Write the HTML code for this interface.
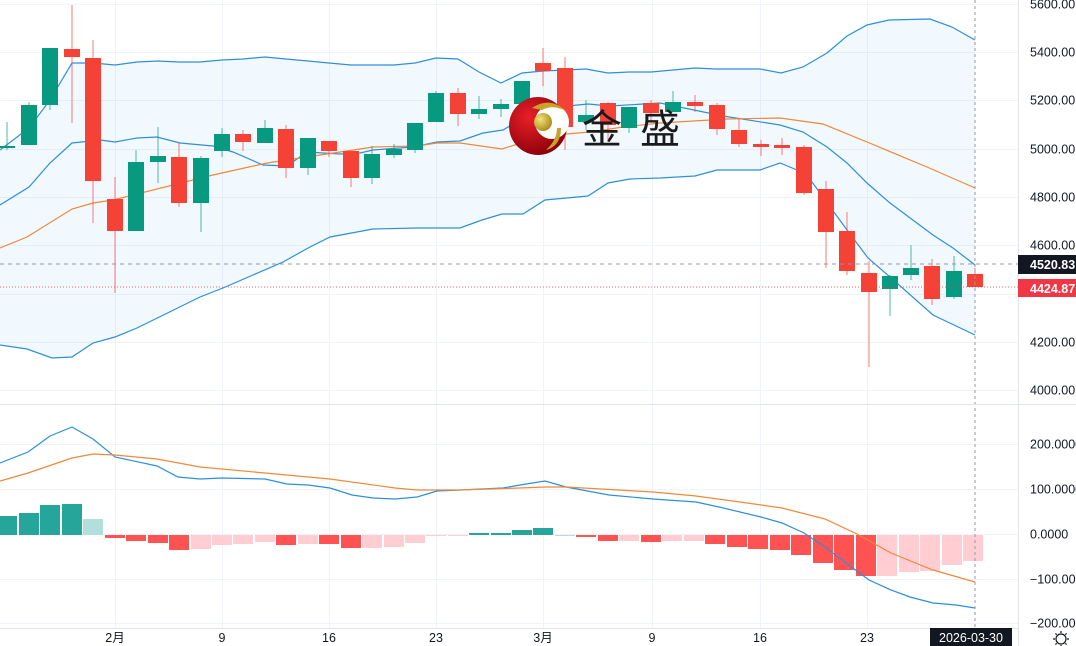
<!DOCTYPE html>
<html><head><meta charset="utf-8"><style>
html,body{margin:0;padding:0;background:#fff;width:1076px;height:646px;overflow:hidden}
svg{display:block}
text{font-family:"Liberation Sans","Noto Sans CJK SC",sans-serif}
</style></head><body>
<svg id="s" width="1076" height="646" xmlns="http://www.w3.org/2000/svg">
<defs>
<radialGradient id="rg" cx="0.35" cy="0.35" r="0.7"><stop offset="0" stop-color="#e8202a"/><stop offset="1" stop-color="#8a0008"/></radialGradient>
<radialGradient id="gg" cx="0.35" cy="0.35" r="0.7"><stop offset="0" stop-color="#f2e27a"/><stop offset="1" stop-color="#a98a1a"/></radialGradient>
</defs>
<g id="grid" stroke="#f0f3fa" stroke-width="1"></g>
<polygon id="band" fill="#2196f3" fill-opacity="0.06"></polygon>
<g id="lines" fill="none" stroke-width="1.2"></g>
<g id="candles"></g>
<g id="hist"></g>
<g id="mlines" fill="none" stroke-width="1.2"></g>
<line x1="0" y1="264" x2="1018" y2="264" stroke="#9598a1" stroke-dasharray="4,4"/>
<line x1="0" y1="287" x2="1018" y2="287" stroke="#f23645" stroke-width="0.8" stroke-dasharray="1,2"/>
<line x1="975" y1="0" x2="975" y2="628" stroke="#9598a1" stroke-dasharray="3,3"/>
<!-- logo -->
<circle cx="538" cy="126" r="29" fill="url(#rg)"/>
<circle cx="552" cy="122" r="17" fill="#fff"/>
<path d="M532 108 Q550 96 566 111 Q553 104 542 110 Z" fill="#c9a22a"/>
<path d="M561 128 Q561 146 546 150 Q557 140 557 128 Z" fill="#c9a22a"/>
<circle cx="543" cy="122" r="9" fill="url(#gg)"/>
<text x="582" y="143" font-size="40" fill="#1a1a1a" style="font-family:'Noto Sans CJK SC',sans-serif">金</text>
<text x="640" y="143" font-size="40" fill="#1a1a1a" style="font-family:'Noto Sans CJK SC',sans-serif">盛</text>
<!-- axes -->
<line x1="0" y1="404.5" x2="1076" y2="404.5" stroke="#e0e3eb"/>
<line x1="0" y1="628.5" x2="1018" y2="628.5" stroke="#e0e3eb"/>
<line x1="1018.5" y1="0" x2="1018.5" y2="646" stroke="#e0e3eb"/>
<g id="labels" font-size="12.5" fill="#131722"></g>
<rect x="1018" y="255" width="58" height="19" fill="#131722"/>
<text x="1030" y="269" font-size="12.5" fill="#fff" font-weight="bold">4520.83</text>
<rect x="1018" y="279" width="58" height="18" fill="#f23645"/>
<text x="1030" y="293" font-size="12.5" fill="#fff" font-weight="bold">4424.87</text>
<rect x="930" y="628" width="82" height="18" fill="#131722"/>
<text x="971" y="642" font-size="12.5" fill="#fff" text-anchor="middle">2026-03-30</text>
<g transform="translate(1061,639)" fill="none" stroke="#131722" stroke-width="1.2"><circle r="5"/><path d="M0-8V-6M0 6V8M-8 0H-6M6 0H8M-5.6-5.6L-4.3-4.3M4.3 4.3L5.6 5.6M-5.6 5.6L-4.3 4.3M4.3-4.3L5.6-5.6"/></g>
</svg>
<script>
const NS="http://www.w3.org/2000/svg";
function el(p,t,a){const e=document.createElementNS(NS,t);for(const k in a)e.setAttribute(k,a[k]);document.getElementById(p).appendChild(e);return e;}
[4,52,100,149,197,245,294,342,390,444,489,534,579,623].forEach(y=>el('grid','line',{x1:0,x2:1018,y1:y+.5,y2:y+.5}));
[115,222,329,436,543,652,760,867].forEach(x=>el('grid','line',{x1:x+.5,x2:x+.5,y1:0,y2:628}));
[["5600.00",4],["5400.00",52],["5200.00",100],["5000.00",149],["4800.00",197],["4600.00",245],["4200.00",342],["4000.00",390],["200.0000",444],["100.0000",489],["0.0000",534],["−100.000",579],["−200.000",623]].forEach(([t,y])=>{const e=el('labels','text',{x:1030,y:y+4.5});e.textContent=t;});
[["2月",115],["9",222],["16",329],["23",436],["3月",543],["9",652],["16",760],["23",867]].forEach(([t,x])=>{const e=el('labels','text',{x:x,y:642,'text-anchor':'middle'});e.textContent=t;});
const up=[[0,150],[29,128],[50,100],[72,63],[93,63],[115,65],[137,62],[158,61],[179,62],[200,62],[222,60],[243,59],[265,57],[286,59],[308,61],[329,63],[351,65],[372,65],[394,65],[415,63],[436,58],[458,59],[479,72],[501,83],[522,73],[543,71],[565,70],[586,69],[608,73],[629,72],[651,72],[673,70],[695,68],[716,69],[738,69],[760,69],[781,73],[803,67],[827,53],[847,36],[867,25],[889,20],[930,19],[952,27],[975,40]];
const lo=[[0,345],[27,349],[52,358],[72,357],[93,343],[115,337],[137,328],[200,297],[223,288],[283,262],[310,247],[330,237],[373,229],[417,228],[460,228],[482,220],[502,214],[523,214],[545,200],[588,196],[608,183],[630,179],[660,178],[695,176],[717,170],[760,170],[780,163],[797,170],[812,182],[847,230],[868,258],[890,277],[933,315],[975,335]];
const mid=[[0,205],[29,187],[50,163],[72,143],[100,140],[115,142],[137,138],[157,137],[180,143],[213,146],[233,152],[263,165],[287,166],[307,152],[340,154],[360,153],[373,150],[413,147],[437,142],[460,141],[483,133],[503,130],[523,118],[547,108],[588,104],[610,106],[660,103],[723,116],[780,125],[803,132],[827,147],[847,163],[867,183],[890,203],[933,235],[953,248],[975,265]];
const ora=[[0,248],[27,237],[72,209],[93,203],[113,200],[213,175],[267,163],[340,152],[373,147],[417,146],[437,143],[460,143],[502,149],[543,136],[590,132],[623,127],[660,123],[727,119],[780,118],[823,124],[867,142],[927,167],[975,188]];
const P=a=>a.map(p=>p.join(',')).join(' ');
document.getElementById('band').setAttribute('points',P(up)+' '+P(lo.slice().reverse()));
el('lines','polyline',{points:P(up),stroke:'#2d8fdc'});
el('lines','polyline',{points:P(lo),stroke:'#2d8fdc'});
el('lines','polyline',{points:P(mid),stroke:'#2d8fdc'});
el('lines','polyline',{points:P(ora),stroke:'#f0883a'});
const C=[[7,146,148,122,150,1],[29,105,145,102,145,1],[50,48,105,48,110,1],[72,49,57,5,123,0],[93,58,181,40,223,0],[115,199,231,177,293,0],[136,162,231,150,231,1],[158,156,162,127,183,1],[179,157,203,143,207,0],[201,158,203,156,232,1],[222,134,151,128,157,1],[243,134,142,130,151,0],[265,128,143,120,143,1],[286,129,168,125,178,0],[308,138,168,138,175,1],[329,141,151,141,157,0],[351,151,178,151,187,0],[372,154,178,146,184,1],[394,149,155,144,158,1],[415,123,150,123,153,1],[436,93,122,91,122,1],[458,93,114,88,126,0],[479,109,114,96,119,1],[501,104,109,99,117,1],[522,81,104,81,110,1],[543,63,71,48,86,0],[565,68,127,57,150,0],[586,115,122,100,130,1],[608,103,125,102,140,0],[629,107,128,107,133,1],[651,103,113,100,120,0],[673,102,112,91,112,1],[695,102,106,95,112,0],[717,105,129,103,135,0],[739,130,144,118,147,0],[761,144,147,140,156,0],[782,145,148,138,155,0],[804,147,193,145,195,0],[826,189,232,181,268,0],[847,231,271,212,275,0],[869,273,292,261,367,0],[890,276,289,275,316,1],[911,268,275,245,280,1],[932,266,299,259,305,0],[954,271,297,256,299,1],[975,274,287,268,287,0]];
C.forEach(([x,t,b,wt,wb,g])=>{const c=g?'#089981':'#f44336';el('candles','line',{x1:x,x2:x,y1:wt,y2:wb,stroke:c,'stroke-width':1,'stroke-opacity':0.7});el('candles','rect',{x:x-8,y:t,width:16,height:Math.max(1.5,b-t),fill:c});});
const H=[[7,516,'G'],[29,513,'G'],[50,505,'G'],[72,504,'G'],[93,519,'g'],[115,538,'R'],[136,541,'R'],[158,543,'R'],[179,550,'R'],[201,549,'r'],[222,545,'r'],[243,544,'r'],[265,542,'r'],[286,545,'R'],[308,544,'r'],[329,544,'R'],[351,548,'R'],[372,548,'r'],[394,547,'r'],[415,543,'r'],[436,536,'r'],[458,536,'r'],[479,533,'G'],[501,533,'G'],[522,530,'G'],[543,528,'G'],[565,536,'g'],[586,537,'R'],[608,541,'R'],[629,541,'r'],[651,542,'R'],[672,541,'r'],[694,541,'r'],[715,544,'R'],[737,547,'R'],[758,549,'R'],[780,550,'R'],[801,555,'R'],[823,563,'R'],[844,570,'R'],[866,576,'R'],[887,576,'r'],[909,572,'r'],[930,571,'r'],[952,565,'r'],[973,561,'r']];
const col={G:'#26a69a',g:'#b2dfdb',R:'#ff5252',r:'#ffcdd2'};
H.forEach(([x,y,t])=>{const z=535;const top=Math.min(y,z),h=Math.max(1,Math.abs(y-z));el('hist','rect',{x:x-10,y:top,width:20,height:h,fill:col[t]});});
const mb=[[0,463],[28,452],[50,436],[72,427],[93,439],[115,457],[157,466],[178,477],[200,479],[222,478],[265,479],[287,484],[308,485],[330,488],[352,495],[373,498],[395,499],[417,497],[437,491],[460,490],[503,488],[520,485],[545,481],[566,487],[609,495],[653,499],[696,502],[719,507],[761,517],[782,523],[804,533],[825,547],[846,563],[869,580],[891,590],[910,597],[933,603],[956,605],[975,608]];
const mo=[[0,481],[28,473],[72,458],[93,454],[115,455],[157,459],[200,467],[265,473],[330,479],[395,488],[417,490],[460,490],[520,488],[545,487],[566,487],[653,492],[696,496],[740,502],[782,508],[825,519],[857,534],[891,553],[933,570],[975,582]];
el('mlines','polyline',{points:P(mb),stroke:'#2d8fdc'});
el('mlines','polyline',{points:P(mo),stroke:'#f0883a'});
</script>
</body></html>
